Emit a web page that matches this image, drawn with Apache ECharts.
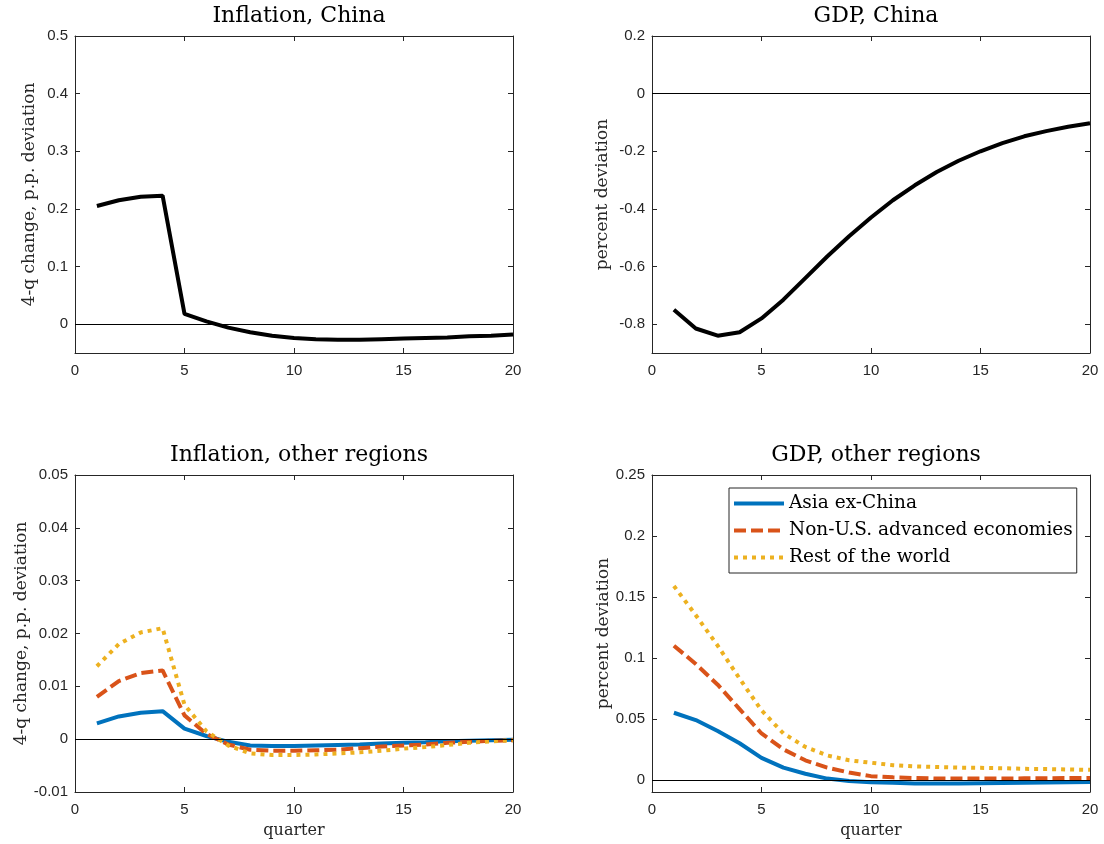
<!DOCTYPE html>
<html lang="en">
<head>
<meta charset="utf-8">
<title>China shock responses</title>
<script src="https://cdn.jsdelivr.net/npm/echarts@6/dist/echarts.min.js"></script>
</head>
<body style="margin:0; background:#fff">
<div id="container" style="width:1104px; height:844px"></div>
<script type="text/javascript">
// quarters after the shock
var quarters = [1,2,3,4,5,6,7,8,9,10,11,12,13,14,15,16,17,18,19,20];

// top row: China
var inflChina = [0.205,0.215,0.221,0.223,0.018,0.005,-0.006,-0.014,-0.020,-0.024,-0.026,-0.027,-0.027,-0.026,-0.025,-0.024,-0.023,-0.021,-0.020,-0.018];
var gdpChina = [-0.75,-0.815,-0.84,-0.828,-0.78,-0.715,-0.64,-0.565,-0.495,-0.43,-0.37,-0.318,-0.272,-0.233,-0.2,-0.172,-0.148,-0.13,-0.115,-0.103];

// bottom row: other regions
var inflAsia = [0.003,0.0043,0.005,0.0053,0.002,0.0006,-0.0005,-0.0012,-0.0013,-0.0013,-0.0012,-0.0011,-0.001,-0.0008,-0.0007,-0.0006,-0.0004,-0.0003,-0.0002,-0.0001];
var inflAdv = [0.008,0.011,0.0125,0.013,0.0045,0.001,-0.001,-0.002,-0.0022,-0.0022,-0.0021,-0.002,-0.0017,-0.0014,-0.0012,-0.001,-0.0007,-0.0005,-0.0003,-0.0002];
var inflRow = [0.0138,0.018,0.0202,0.021,0.0065,0.0015,-0.0012,-0.0027,-0.003,-0.003,-0.0029,-0.0027,-0.0025,-0.0022,-0.0018,-0.0015,-0.0011,-0.0007,-0.0004,-0.0002];
var gdpAsia = [0.055,0.049,0.04,0.03,0.018,0.01,0.005,0.001,-0.001,-0.002,-0.0025,-0.003,-0.003,-0.003,-0.0028,-0.0026,-0.0024,-0.0022,-0.002,-0.0018];
var gdpAdv = [0.11,0.095,0.078,0.058,0.038,0.025,0.016,0.01,0.006,0.003,0.002,0.0015,0.001,0.001,0.001,0.001,0.0012,0.0013,0.0014,0.0015];
var gdpRow = [0.159,0.135,0.11,0.083,0.057,0.038,0.027,0.02,0.016,0.014,0.012,0.011,0.0105,0.01,0.0098,0.0095,0.009,0.0088,0.0085,0.0082];

var regionNames = ['Asia ex-China', 'Non-U.S. advanced economies', 'Rest of the world'];

// tick labels
var xTicks = [0,5,10,15,20];
var yTicksTL = [0,0.1,0.2,0.3,0.4,0.5];
var yTicksTR = [-0.8,-0.6,-0.4,-0.2,0,0.2];
var yTicksBL = [-0.01,0,0.01,0.02,0.03,0.04,0.05];
var yTicksBR = [0,0.05,0.1,0.15,0.2,0.25];

var axisCol = '#262626';
var serif = '"DejaVu Serif", "Liberation Serif", serif';
var sans = '"Liberation Sans", Arial, sans-serif';

function pairs(vals) {
    return quarters.map(function (q, i) { return [q, vals[i]]; });
}

var grids = [
    {left: 75, top: 36, width: 438, height: 317},
    {left: 652, top: 36, width: 438, height: 317},
    {left: 75, top: 475, width: 438, height: 317},
    {left: 652, top: 475, width: 438, height: 317}
];
var yRanges = [[-0.05, 0.5], [-0.9, 0.2], [-0.01, 0.05], [-0.01, 0.25]];
var yTickSets = [yTicksTL, yTicksTR, yTicksBL, yTicksBR];
var yNames = ['4-q change, p.p. deviation', 'percent deviation', '4-q change, p.p. deviation', 'percent deviation'];
var yNameGaps = [37, 41, 37, 40];
var titles = ['Inflation, China', 'GDP, China', 'Inflation, other regions', 'GDP, other regions'];

var xAxes = [], yAxes = [], titleList = [];
grids.forEach(function (g, k) {
    xAxes.push({
        type: 'value', gridIndex: k, min: 0, max: 20, position: 'bottom',
        name: k >= 2 ? 'quarter' : '', nameLocation: 'middle', nameGap: 31,
        nameTextStyle: {fontFamily: serif, fontSize: 16, color: axisCol},
        axisLine: {show: true, onZero: false, lineStyle: {color: axisCol, width: 1}},
        axisTick: {show: true, inside: true, length: 5, lineStyle: {color: axisCol}, customValues: xTicks},
        axisLabel: {fontFamily: sans, fontSize: 15, color: axisCol, margin: 10, customValues: xTicks},
        splitLine: {show: false}
    });
    xAxes.push({
        type: 'value', gridIndex: k, min: 0, max: 20, position: 'top',
        axisLine: {show: true, onZero: false, lineStyle: {color: axisCol, width: 1}},
        axisTick: {show: true, inside: true, length: 5, lineStyle: {color: axisCol}, customValues: xTicks},
        axisLabel: {show: false, customValues: xTicks}, splitLine: {show: false}
    });
    var ticks = yTickSets[k];
    yAxes.push({
        type: 'value', gridIndex: k, min: yRanges[k][0], max: yRanges[k][1], position: 'left',
        name: yNames[k], nameLocation: 'middle', nameGap: yNameGaps[k], nameRotate: 90,
        nameTextStyle: {fontFamily: serif, fontSize: 17, color: axisCol},
        axisLine: {show: true, onZero: false, lineStyle: {color: axisCol, width: 1}},
        axisTick: {show: true, inside: true, length: 5, lineStyle: {color: axisCol}, customValues: ticks},
        axisLabel: {fontFamily: sans, fontSize: 15, color: axisCol, margin: 7, customValues: ticks,
            formatter: function (v) { return String(Math.round(v * 1000) / 1000); }},
        splitLine: {show: false}
    });
    yAxes.push({
        type: 'value', gridIndex: k, min: yRanges[k][0], max: yRanges[k][1], position: 'right',
        axisLine: {show: true, onZero: false, lineStyle: {color: axisCol, width: 1}},
        axisTick: {show: true, inside: true, length: 5, lineStyle: {color: axisCol}, customValues: ticks},
        axisLabel: {show: false, customValues: ticks}, splitLine: {show: false}
    });
    titleList.push({
        text: titles[k], left: g.left + g.width / 2, top: g.top - 36, textAlign: 'center',
        textStyle: {fontFamily: serif, fontSize: 22, fontWeight: 'normal', color: '#000'}
    });
});

var zeroLine = {
    silent: true, symbol: 'none', label: {show: false},
    lineStyle: {color: '#000', width: 1, type: 'solid'},
    data: [{yAxis: 0}]
};

function lineSeries(name, vals, k, color, type, withZero) {
    var s = {
        name: name, type: 'line', xAxisIndex: k * 2, yAxisIndex: k * 2,
        data: pairs(vals), symbol: 'none', showSymbol: false, animation: false,
        lineStyle: {color: color, width: 4, type: type, cap: 'butt'},
        itemStyle: {color: color}, z: 3
    };
    if (withZero) s.markLine = zeroLine;
    return s;
}

var blue = '#0072BD', red = '#D95319', yellow = '#EDB120';
var dashed = [12, 5], dotted = [4, 5];

var series = [
    lineSeries('China inflation', inflChina, 0, '#000', 'solid', true),
    lineSeries('China GDP', gdpChina, 1, '#000', 'solid', true),
    lineSeries(regionNames[0] + ' ', inflAsia, 2, blue, 'solid', true),
    lineSeries(regionNames[1] + ' ', inflAdv, 2, red, dashed, false),
    lineSeries(regionNames[2] + ' ', inflRow, 2, yellow, dotted, false),
    lineSeries(regionNames[0], gdpAsia, 3, blue, 'solid', true),
    lineSeries(regionNames[1], gdpAdv, 3, red, dashed, false),
    lineSeries(regionNames[2], gdpRow, 3, yellow, dotted, false)
];

var myChart = echarts.init(document.getElementById('container'));
var option = {
    backgroundColor: '#fff',
    animation: false,
    title: titleList,
    grid: grids,
    xAxis: xAxes,
    yAxis: yAxes,
    legend: {
        data: regionNames, orient: 'vertical', left: 729, top: 488,
        itemWidth: 50, itemHeight: 14, itemGap: 8,
        padding: [6, 4, 6, 3], borderColor: axisCol, borderWidth: 1, backgroundColor: '#fff',
        itemStyle: {opacity: 0},
        lineStyle: {width: 4},
        textStyle: {fontFamily: serif, fontSize: 18.5, color: '#000'},
        selectedMode: false
    },
    series: series
};
myChart.setOption(option);
</script>
</body>
</html>
